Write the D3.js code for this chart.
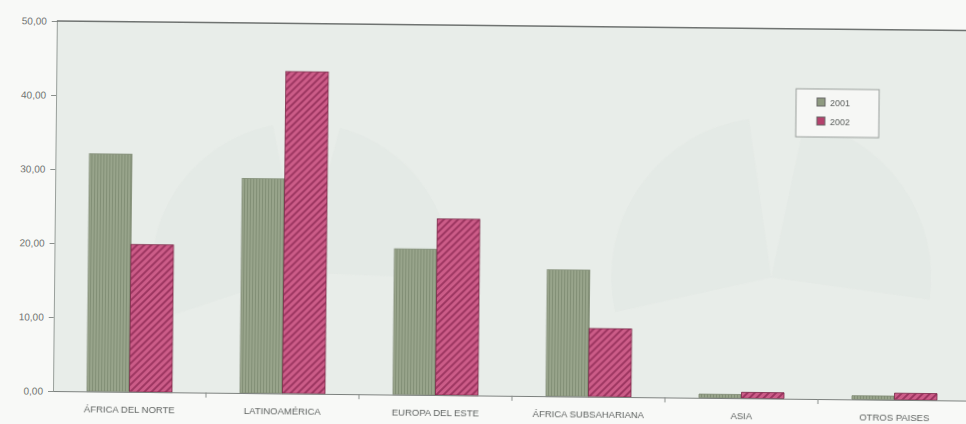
<!DOCTYPE html>
<html>
<head>
<meta charset="utf-8">
<script src="https://cdn.jsdelivr.net/npm/d3@7"></script>
<style>
  html, body { margin: 0; padding: 0; background: #f8f9f7; }
  svg { display: block; }
</style>
</head>
<body>
<svg id="chart" width="966" height="424"></svg>
<script>
// Regions and the share recorded for each year
const categories = ["ÁFRICA DEL NORTE", "LATINOAMÉRICA", "EUROPA DEL ESTE", "ÁFRICA SUBSAHARIANA", "ASIA", "OTROS PAISES"];
const years = ["2001", "2002"];
const values2001 = [32.1, 29.0, 19.7, 17.1, 0.5, 0.5];
const values2002 = [19.9, 43.5, 23.8, 9.2, 0.8, 0.9];
const yTicks = [0, 10, 20, 30, 40, 50];

const svg = d3.select("#chart");
const plotLeft = 53, plotRight = 971, plotTop = 21, plotBottom = 391;

// hatch patterns for the two series
const defs = svg.append("defs");
const pg = defs.append("pattern").attr("id", "pat2001")
  .attr("patternUnits", "userSpaceOnUse").attr("width", 3).attr("height", 3);
pg.append("rect").attr("width", 3).attr("height", 3).attr("fill", "#98a48b");
pg.append("line").attr("x1", 0.5).attr("y1", 0).attr("x2", 0.5).attr("y2", 3)
  .attr("stroke", "#828f76").attr("stroke-width", 1);

const pr = defs.append("pattern").attr("id", "pat2002")
  .attr("patternUnits", "userSpaceOnUse").attr("width", 5).attr("height", 5)
  .attr("patternTransform", "rotate(-45)");
pr.append("rect").attr("width", 5).attr("height", 5).attr("fill", "#cc5c88");
pr.append("line").attr("x1", 0).attr("y1", 1).attr("x2", 5).attr("y2", 1)
  .attr("stroke", "#952f5a").attr("stroke-width", 1.7);

const fills = { "2001": "url(#pat2001)", "2002": "url(#pat2002)" };
const strokes = { "2001": "#7f8b74", "2002": "#7a2848" };
const swatch = { "2001": "#8e9a80", "2002": "#b4416c" };

// the whole chart sits slightly askew on the page
const g = svg.append("g").attr("transform", `rotate(0.6, ${plotLeft}, ${plotBottom})`);

const x = d3.scaleBand().domain(categories).range([plotLeft, plotRight]).paddingInner(0).paddingOuter(0);
const xSub = d3.scaleBand().domain(years).range([0, x.bandwidth()]).paddingInner(0).paddingOuter(0.8);
const y = d3.scaleLinear().domain([0, 50]).range([plotBottom, plotTop]);

// plot background
g.append("rect").attr("x", plotLeft).attr("y", plotTop)
  .attr("width", plotRight - plotLeft).attr("height", plotBottom - plotTop)
  .attr("fill", "#e8ede9");

// faint shapes in the backdrop
const bg = g.append("g").attr("fill", "#e2e8e4").attr("opacity", 0.7);
const arc = d3.arc();
bg.append("path").attr("transform", "translate(300,270)")
  .attr("d", arc({ innerRadius: 0, outerRadius: 150, startAngle: -1.9, endAngle: -0.2 }));
bg.append("path").attr("transform", "translate(300,270)")
  .attr("d", arc({ innerRadius: 0, outerRadius: 150, startAngle: 0.25, endAngle: 1.6 }));
bg.append("path").attr("transform", "translate(770,270)")
  .attr("d", arc({ innerRadius: 0, outerRadius: 160, startAngle: -1.8, endAngle: -0.15 }));
bg.append("path").attr("transform", "translate(770,270)")
  .attr("d", arc({ innerRadius: 0, outerRadius: 160, startAngle: 0.2, endAngle: 1.7 }));

// y axis
const yAxis = d3.axisLeft(y).tickValues(yTicks).tickSize(5).tickPadding(5)
  .tickFormat(d => d3.format(".2f")(d).replace(".", ","));
const ya = g.append("g").attr("transform", `translate(${plotLeft},0)`).call(yAxis);
ya.select(".domain").attr("stroke", "#9aa09c").attr("stroke-width", 1);
ya.selectAll(".tick line").attr("stroke", "#8a8f8c");
ya.selectAll("text").attr("fill", "#707371").attr("font-family", "Liberation Sans, Arial, sans-serif")
  .attr("font-size", 10);

// top frame line
g.append("line").attr("x1", plotLeft).attr("x2", plotRight).attr("y1", plotTop).attr("y2", plotTop)
  .attr("stroke", "#6f7371").attr("stroke-width", 1.5);

// bars
const groups = g.selectAll(".grp").data(categories).join("g")
  .attr("class", "grp").attr("transform", d => `translate(${x(d)},0)`);
const rows = categories.map((c, i) => [
  { year: "2001", v: values2001[i] },
  { year: "2002", v: values2002[i] }
]);
groups.selectAll("rect").data((d, i) => rows[i]).join("rect")
  .attr("x", d => xSub(d.year))
  .attr("y", d => y(d.v))
  .attr("width", xSub.bandwidth())
  .attr("height", d => y(0) - y(d.v))
  .attr("fill", d => fills[d.year])
  .attr("stroke", d => strokes[d.year])
  .attr("stroke-width", 0.8);

// x axis
const xAxis = d3.axisBottom(x).tickSize(0).tickPadding(14);
const xa = g.append("g").attr("transform", `translate(0,${plotBottom})`).call(xAxis);
xa.select(".domain").attr("stroke", "#7b807d").attr("stroke-width", 1.2);
xa.selectAll("text").attr("fill", "#5e6260").attr("font-family", "Liberation Sans, Arial, sans-serif")
  .attr("font-size", 9.5);
// boundary ticks between regions
xa.selectAll(".sep").data(categories.slice(1)).join("line").attr("class", "sep")
  .attr("x1", d => x(d)).attr("x2", d => x(d)).attr("y1", 0).attr("y2", 5)
  .attr("stroke", "#8a8f8c");

// legend
const lg = g.append("g").attr("transform", "translate(793,81)");
lg.append("rect").attr("width", 83).attr("height", 48).attr("fill", "#f6f7f5")
  .attr("stroke", "#9a9f9c").attr("stroke-width", 1);
years.forEach((yr, i) => {
  const row = lg.append("g").attr("transform", `translate(21,${9 + i * 19})`);
  row.append("rect").attr("width", 8).attr("height", 8).attr("fill", swatch[yr]).attr("stroke", "#666");
  row.append("text").attr("x", 13).attr("y", 8).text(yr)
    .attr("fill", "#5e6260").attr("font-family", "Liberation Sans, Arial, sans-serif").attr("font-size", 9);
});
</script>
</body>
</html>
